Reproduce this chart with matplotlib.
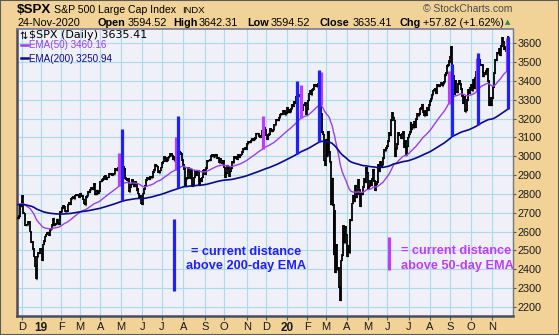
import numpy as np
import matplotlib
matplotlib.use('Agg')
import matplotlib.pyplot as plt
from matplotlib.lines import Line2D
from matplotlib.patches import Rectangle

# ---------------- data (daily closes, one list per month) ----------------
nov18 = [2673.45, 2682.17, 2743.79, 2737.80, 2760.17]
dec18 = [2790.37, 2700.06, 2695.95, 2633.08, 2637.72, 2636.78, 2651.07, 2650.54, 2599.95, 2545.94,
         2546.16, 2506.96, 2467.42, 2416.62, 2351.10, 2467.70, 2488.83, 2485.74, 2506.85]
jan19 = [2510.03, 2447.89, 2531.94, 2549.69, 2574.41, 2584.96, 2596.64, 2596.26, 2582.61, 2610.30,
         2616.10, 2635.96, 2670.71, 2632.90, 2638.70, 2642.33, 2664.76, 2643.85, 2640.00, 2681.05, 2704.10]
feb19 = [2706.53, 2724.87, 2737.70, 2731.61, 2706.05, 2707.88, 2709.80, 2744.73, 2753.03, 2745.73,
         2775.60, 2779.76, 2784.70, 2774.88, 2792.67, 2796.11, 2793.90, 2792.38, 2784.49]
mar19 = [2803.69, 2792.81, 2789.65, 2771.45, 2748.93, 2743.07, 2783.30, 2791.52, 2810.92, 2808.48,
         2822.48, 2832.94, 2832.57, 2824.23, 2854.88, 2800.71, 2798.36, 2818.46, 2805.37, 2815.44, 2834.40]
apr19 = [2867.19, 2867.24, 2873.40, 2879.39, 2892.74, 2895.77, 2878.20, 2888.21, 2888.32, 2907.41,
         2905.58, 2907.06, 2900.45, 2905.03, 2907.97, 2933.68, 2927.25, 2926.17, 2939.88, 2943.03, 2945.83]
may19 = [2923.73, 2917.52, 2945.64, 2932.47, 2884.05, 2879.42, 2870.72, 2881.40, 2811.87, 2834.41,
         2850.96, 2876.32, 2859.53, 2840.23, 2864.36, 2856.27, 2822.24, 2826.06, 2802.39, 2783.02,
         2788.86, 2752.06]
jun19 = [2744.45, 2803.27, 2826.15, 2843.49, 2873.34, 2886.73, 2885.72, 2879.84, 2891.64, 2886.98,
         2889.67, 2917.75, 2926.46, 2954.18, 2950.46, 2945.35, 2917.38, 2913.78, 2924.92, 2941.76]
jul19 = [2964.33, 2973.01, 2995.82, 2990.41, 2975.95, 2979.63, 2993.07, 2999.91, 3013.77, 3014.30,
         3004.04, 2984.42, 2995.11, 2976.61, 2985.03, 3005.47, 3019.56, 3003.67, 3025.86, 3020.97,
         3013.18, 2980.38]
aug19 = [2953.56, 2932.05, 2844.74, 2881.77, 2883.98, 2938.09, 2918.65, 2882.70, 2926.32, 2840.60,
         2847.60, 2888.68, 2923.65, 2900.51, 2924.43, 2922.95, 2847.11, 2878.38, 2869.16, 2887.94,
         2924.58, 2926.46]
sep19 = [2906.27, 2937.78, 2976.00, 2978.71, 2978.43, 2979.39, 3000.93, 3009.57, 3007.39, 2997.96,
         3005.70, 3006.73, 3006.79, 2992.07, 2991.78, 2966.60, 2984.87, 2977.62, 2961.79, 2976.74]
oct19 = [2940.25, 2887.61, 2910.63, 2952.01, 2938.79, 2893.06, 2919.40, 2938.13, 2970.27, 2966.15,
         2995.68, 2989.69, 2997.95, 2986.20, 3006.72, 2995.99, 3004.52, 3010.29, 3022.55, 3039.42,
         3036.89, 3046.77, 3037.56]
nov19 = [3066.91, 3078.27, 3074.62, 3076.78, 3085.18, 3093.08, 3087.01, 3091.84, 3094.04, 3096.63,
         3120.46, 3122.03, 3120.18, 3108.46, 3103.54, 3110.29, 3133.64, 3140.52, 3153.63, 3140.98]
dec19 = [3113.87, 3093.20, 3112.76, 3117.43, 3145.91, 3135.96, 3132.52, 3141.63, 3168.57, 3168.80,
         3191.45, 3192.52, 3191.14, 3205.37, 3221.22, 3224.01, 3223.38, 3239.91, 3240.02, 3221.29, 3230.78]
jan20 = [3257.85, 3234.85, 3246.28, 3237.18, 3253.05, 3274.70, 3265.35, 3288.13, 3283.15, 3289.29,
         3316.81, 3329.62, 3320.79, 3321.75, 3325.54, 3295.47, 3243.63, 3276.24, 3273.40, 3283.66, 3225.52]
feb20 = [3248.92, 3297.59, 3334.69, 3345.78, 3327.71, 3352.09, 3357.75, 3379.45, 3373.94, 3380.16,
         3370.29, 3386.15, 3373.23, 3337.75, 3225.89, 3128.21, 3116.39, 2978.76, 2954.22]
mar20 = [3090.23, 3003.37, 3130.12, 3023.94, 2972.37, 2746.56, 2882.23, 2741.38, 2480.64, 2711.02,
         2386.13, 2529.19, 2398.10, 2409.39, 2304.92, 2237.40, 2447.33, 2475.56, 2630.07, 2541.47,
         2626.65, 2584.59]
apr20 = [2470.50, 2526.90, 2488.65, 2663.68, 2659.41, 2749.98, 2789.82, 2761.63, 2846.06, 2783.36,
         2799.55, 2874.56, 2823.16, 2736.56, 2799.31, 2797.80, 2836.74, 2878.48, 2863.39, 2939.51, 2912.43]
may20 = [2830.71, 2842.74, 2868.44, 2848.42, 2881.19, 2929.80, 2930.19, 2870.12, 2820.00, 2852.50,
         2863.70, 2953.91, 2922.94, 2971.61, 2948.51, 2955.45, 2991.77, 3036.13, 3029.73, 3044.31]
jun20 = [3055.73, 3080.82, 3122.87, 3112.35, 3193.93, 3232.39, 3207.18, 3190.14, 3002.10, 3041.31,
         3066.59, 3124.74, 3113.49, 3115.34, 3097.74, 3117.86, 3131.29, 3050.33, 3083.76, 3009.05,
         3053.24, 3100.29]
jul20 = [3115.86, 3130.01, 3179.72, 3145.32, 3169.94, 3152.05, 3185.04, 3155.22, 3197.52, 3226.56,
         3215.57, 3224.73, 3251.84, 3257.30, 3276.02, 3235.66, 3215.63, 3239.41, 3218.44, 3258.44,
         3246.22, 3271.12]
aug20 = [3294.61, 3306.51, 3327.77, 3349.16, 3351.28, 3360.47, 3333.69, 3380.35, 3373.43, 3372.85,
         3381.99, 3389.78, 3374.85, 3385.51, 3397.16, 3431.28, 3443.62, 3478.73, 3484.55, 3508.01, 3500.31]
sep20 = [3526.65, 3580.84, 3455.06, 3426.96, 3331.84, 3398.96, 3339.19, 3340.97, 3383.54, 3401.20,
         3385.49, 3357.01, 3319.47, 3281.06, 3315.57, 3236.92, 3246.59, 3298.46, 3351.60, 3335.47, 3363.00]
oct20 = [3380.80, 3348.42, 3408.60, 3360.97, 3419.44, 3446.83, 3477.14, 3534.22, 3511.93, 3488.67,
         3483.34, 3483.81, 3426.92, 3443.12, 3435.56, 3453.49, 3465.39, 3400.97, 3390.68, 3271.03,
         3310.11, 3269.96]
nov20 = [3310.24, 3369.16, 3443.44, 3510.45, 3509.44, 3550.50, 3545.53, 3572.66, 3537.01, 3585.15,
         3626.91, 3609.53, 3567.79, 3581.87, 3557.54, 3577.59, 3635.41]

month_closes = [nov18, dec18, jan19, feb19, mar19, apr19, may19, jun19, jul19, aug19, sep19, oct19,
                nov19, dec19, jan20, feb20, mar20, apr20, may20, jun20, jul20, aug20, sep20, oct20, nov20]
month_labels = ['', 'D', '19', 'F', 'M', 'A', 'M', 'J', 'J', 'A', 'S', 'O', 'N', 'D',
                '20', 'F', 'M', 'A', 'M', 'J', 'J', 'A', 'S', 'O', 'N']
year_labels = ['19', '20']

ema50_seed = 2752.0
ema200_seed = 2745.0
last_close = 3635.41
ema50_last = 3460.16
ema200_last = 3250.94

# trading-day indices where the "distance" bars were drawn
blue_bar_idx = [107, 165, 287, 309, 446, 472, 503]
purple_bar_idx = [104, 162, 252, 291, 311, 442, 471, 502]

y_ticks = list(range(2200, 3700, 100))

# ---------------- computations ----------------
closes = np.concatenate([np.array(m, float) for m in month_closes])
n = len(closes)
idx = np.arange(n)


def ema(values, period, seed):
    a = 2.0 / (period + 1)
    out = np.empty_like(values)
    prev = seed
    for i, v in enumerate(values):
        prev = prev + a * (v - prev)
        out[i] = prev
    return out


ema50 = ema(closes, 50, ema50_seed)
ema200 = ema(closes, 200, ema200_seed)
dist200 = last_close - ema200_last
dist50 = last_close - ema50_last

month_start = np.cumsum([0] + [len(m) for m in month_closes[:-1]])

# ---------------- figure ----------------
W, H = 559, 335
DPI = 100
TAN = '#f1d398'
fig = plt.figure(figsize=(W / DPI, H / DPI), dpi=DPI, facecolor=TAN)

L, R, T, B = 17, 513, 29, 316
ax = fig.add_axes([L / W, 1 - B / H, (R - L) / W, (B - T) / H])
ax.set_facecolor('#eff0f8')

px_per_bar = 0.975
x0 = 17.6
ax.set_xlim((L - x0) / px_per_bar, (R - x0) / px_per_bar)
ax.set_ylim(2152, 3676)

# grid
for t in y_ticks:
    ax.axhline(t, color='#a9dbe8', lw=0.8, zorder=0)
for ms, lab in zip(month_start, month_labels):
    if lab:
        ax.axvline(ms, color='#a9dbe8', lw=0.8, zorder=0)

# price bars (previous close -> close)
prev = np.concatenate([[closes[0]], closes[:-1]])
lo = np.minimum(prev, closes)
hi = np.maximum(prev, closes)
ax.vlines(idx, lo - 4, hi + 4, color='black', lw=1.3, zorder=3)
ax.hlines(closes, idx - 0.2, idx + 1.0, color='black', lw=1.0, zorder=3)

# EMA lines
ax.plot(idx, ema50, color='#9a40e6', lw=1.0, zorder=4)
ax.plot(idx, ema200, color='#0a0a8a', lw=1.2, zorder=4)

# distance bars
BLUE = '#1f1fff'
VIOLET = '#bf3cff'
for i in purple_bar_idx:
    ax.vlines(i, ema50[i], ema50[i] + dist50, color=VIOLET, lw=2.3, zorder=5)
for i in blue_bar_idx:
    ax.vlines(i, ema200[i], ema200[i] + dist200, color=BLUE, lw=2.3, zorder=5)

# explanation bars + text
ax.vlines((174 - x0) / px_per_bar, 2283, 2283 + dist200, color=BLUE, lw=2.3, zorder=5)
ax.vlines((389.3 - x0) / px_per_bar, 2398, 2398 + dist50, color=VIOLET, lw=2.3, zorder=5)


def P(x, y):
    return (x / W, 1 - y / H)


fs_big = 9.2
fig.text(*P(246, 255), '= current distance', ha='center', va='baseline', color=BLUE,
         fontsize=fs_big, fontweight='bold', family='Liberation Sans')
fig.text(*P(246, 269), 'above 200-day EMA', ha='center', va='baseline', color=BLUE,
         fontsize=fs_big, fontweight='bold', family='Liberation Sans')
for txt, yb in [('= current distance', 254.5), ('above 50-day EMA', 268.5)]:
    t = fig.text(*P(400.7, yb), txt, ha='left', va='baseline',
                 color=VIOLET, fontsize=fs_big, fontweight='bold', family='Liberation Sans')
    t.set_clip_box(ax.bbox)
    t.set_clip_on(True)

# axes styling
ax.yaxis.tick_right()
ax.set_yticks(y_ticks)
ax.set_yticklabels([str(t) for t in y_ticks])
ax.tick_params(axis='y', length=2, width=0.8, color='#555555', pad=1,
               labelsize=7.8, labelcolor='#1a1a1a')
ticks_pos = [ms for ms, lab in zip(month_start, month_labels) if lab]
ticks_lab = [lab for lab in month_labels if lab]
ax.set_xticks(ticks_pos)
ax.set_xticklabels(ticks_lab)
ax.tick_params(axis='x', length=3, width=0.8, color='#555555', pad=1.5,
               labelsize=8, labelcolor='#1a1a1a')
for lab in ax.get_xticklabels() + ax.get_yticklabels():
    lab.set_family('Liberation Sans')
for lab in ax.get_xticklabels():
    if lab.get_text() in year_labels:
        lab.set_fontweight('bold')
        lab.set_fontsize(8.5)

ax.spines['left'].set_color('#4c4c5e')
ax.spines['left'].set_linewidth(1.8)
ax.spines['bottom'].set_color('#4c4c5e')
ax.spines['bottom'].set_linewidth(1.8)
ax.spines['top'].set_color('#7a7a90')
ax.spines['top'].set_linewidth(1.2)
ax.spines['right'].set_color('#777777')
ax.spines['right'].set_linewidth(1.0)
ax.spines['right'].set_linestyle((0, (1, 1)))

# ---------------- header ----------------
FN = 'Liberation Sans'
fig.text(*P(17, 13.3), '$SPX', fontsize=9.6, fontweight='bold', family=FN, va='baseline')
fig.text(*P(54, 12.8), 'S&P 500 Large Cap Index', fontsize=7.6, family=FN, va='baseline')
fig.text(*P(182, 12.8), 'INDX', fontsize=6.8, family=FN, va='baseline')
fig.text(*P(512, 12.5), '\u00a9 StockCharts.com', fontsize=7.5, family=FN, va='baseline',
         ha='right', color='#4a4a4a')

row2 = [(17, '24-Nov-2020', 'normal'), (98, 'Open', 'bold'), (128, '3594.52', 'normal'),
        (173, 'High', 'bold'), (199, '3642.31', 'normal'), (247, 'Low', 'bold'),
        (271, '3594.52', 'normal'), (319, 'Close', 'bold'), (353, '3635.41', 'normal'),
        (399, 'Chg', 'bold'), (423, '+57.82 (+1.62%)', 'normal')]
for x, s, w in row2:
    fig.text(*P(x, 26), s, fontsize=7.8, fontweight=w, family=FN, va='baseline')
fig.text(*P(508, 24.5), '\u25b2', fontsize=5, color='#2e8b3e', ha='center', va='baseline',
         family='DejaVu Sans')

# legend inside plot
fig.text(*P(19.5, 38.5), '\u21c5', fontsize=7, family='DejaVu Sans', va='baseline')
fig.text(*P(29, 38.5), '$SPX (Daily) 3635.41', fontsize=8, family='DejaVu Sans', va='baseline')
fig.lines.append(Line2D([21 / W, 28 / W], [1 - 44.8 / H, 1 - 44.8 / H], color='#9a40e6', lw=1.8,
                        transform=fig.transFigure))
fig.text(*P(29, 48.3), 'EMA(50) 3460.16', fontsize=7.1, family=FN, va='baseline', color='#9a40e6')
fig.lines.append(Line2D([21 / W, 28 / W], [1 - 58 / H, 1 - 58 / H], color='#0a0a8a', lw=1.8,
                        transform=fig.transFigure))
fig.text(*P(29, 61.5), 'EMA(200) 3250.94', fontsize=7.1, family=FN, va='baseline', color='#0a0a8a')

# outer border
fig.patches.append(Rectangle((0, 0), 1, 1, transform=fig.transFigure, fill=False,
                             edgecolor='#5a5a5a', lw=1.5))

fig.savefig('out.png', dpi=DPI, facecolor=TAN)
